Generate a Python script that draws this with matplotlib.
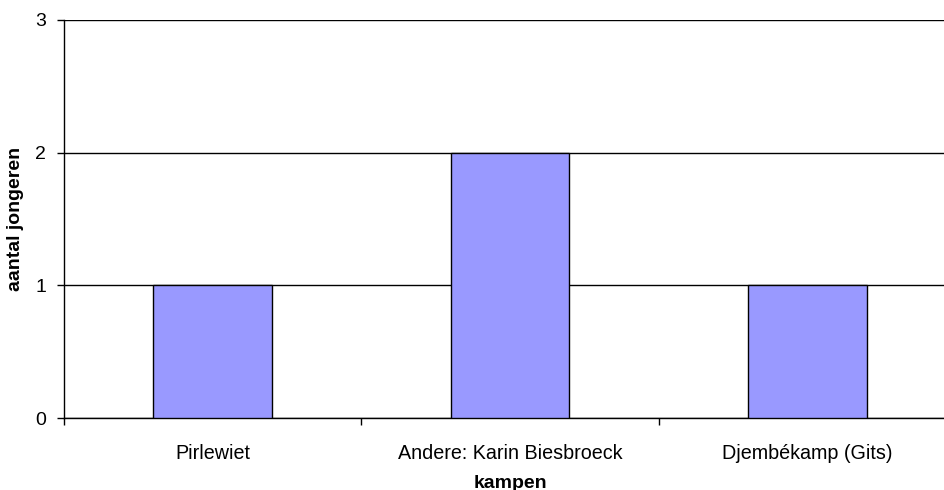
import matplotlib.pyplot as plt

plt.rcParams['font.family'] = ['Liberation Sans', 'DejaVu Sans']

kampen = ["Pirlewiet", "Andere: Karin Biesbroeck", "Djembékamp (Gits)"]
aantal = [1, 2, 1]

fig = plt.figure(figsize=(9.44, 4.9), dpi=100)
ax = fig.add_axes([64 / 944, 72 / 490, 892 / 944, 398 / 490])

x = list(range(len(kampen)))
ax.bar(x, aantal, width=0.4, color="#9999FF", edgecolor="black", linewidth=1, zorder=3)

ax.set_xlim(-0.5, len(kampen) - 0.5)
ax.set_ylim(0, 3)
ax.set_yticks([0, 1, 2, 3])
ax.yaxis.grid(True, color="black", linewidth=1, zorder=0)

# category ticks sit between the bars, labels centred under them
ax.set_xticks([i - 0.5 for i in range(len(kampen))])
ax.set_xticklabels([])
ax.set_xticks(x, minor=True)
ax.set_xticklabels(kampen, minor=True, fontsize=14.2)
ax.tick_params(axis="x", which="minor", length=0, pad=19)
ax.tick_params(axis="x", which="major", length=5, width=1, direction="out")
ax.tick_params(axis="y", length=5, width=1, labelsize=14, pad=8)

for side in ["top", "right"]:
    ax.spines[side].set_visible(False)
ax.spines["left"].set_linewidth(1)
ax.spines["bottom"].set_linewidth(1)

ax.set_xlabel("kampen", fontsize=14, fontweight="bold", labelpad=8)
ax.set_ylabel("aantal jongeren", fontsize=14, fontweight="bold", labelpad=8)

fig.savefig("out.png", dpi=100)
